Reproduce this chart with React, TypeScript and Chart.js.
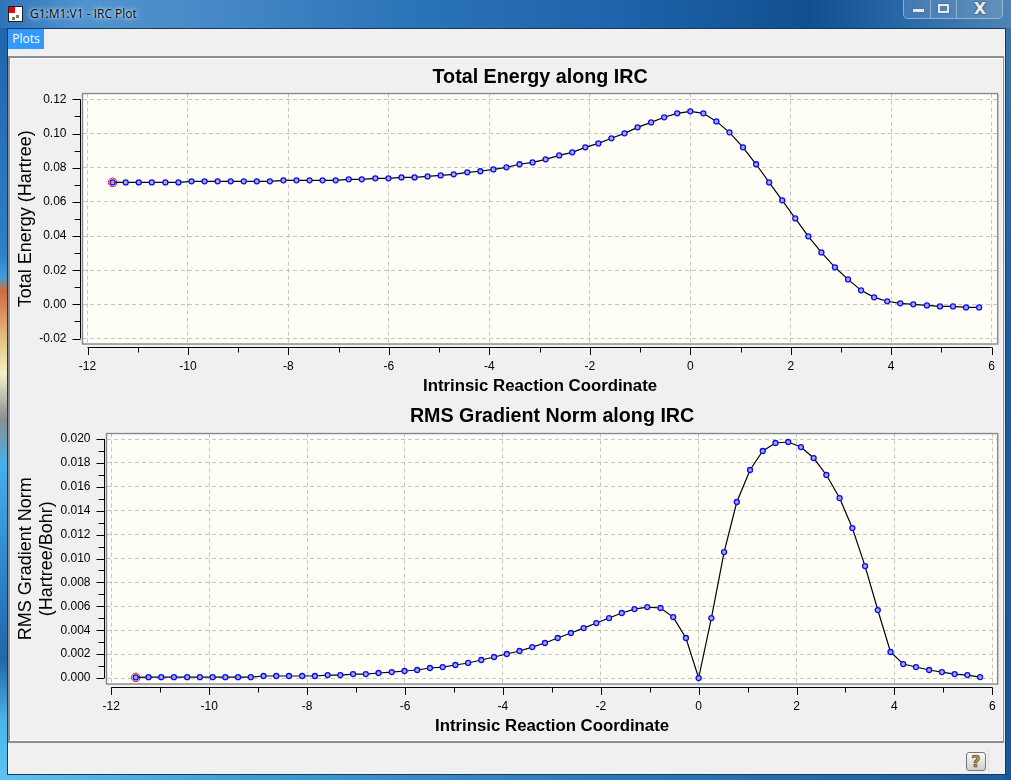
import React, { useEffect, useRef } from "react";
import { Chart, registerables } from "chart.js";

Chart.register(...registerables);

const reactionCoordinate = [
  -11.5, -11.24, -10.98, -10.72, -10.45, -10.19, -9.93, -9.67, -9.41, -9.15, -8.89, -8.63, -8.37, -8.1, -7.84, -7.58,
  -7.32, -7.06, -6.8, -6.54, -6.27, -6.01, -5.75, -5.49, -5.23, -4.97, -4.71, -4.44, -4.18, -3.92, -3.66, -3.4, -3.14,
  -2.88, -2.61, -2.35, -2.09, -1.83, -1.57, -1.31, -1.05, -0.78, -0.52, -0.26, 0, 0.26, 0.52, 0.78, 1.05, 1.31, 1.57,
  1.83, 2.09, 2.35, 2.61, 2.88, 3.14, 3.4, 3.66, 3.92, 4.18, 4.44, 4.71, 4.97, 5.23, 5.49, 5.75,
];

const totalEnergy = [
  0.0714, 0.0714, 0.0714, 0.0714, 0.0714, 0.0714, 0.072, 0.072, 0.072, 0.072, 0.072, 0.072, 0.072, 0.0726, 0.0726,
  0.0726, 0.0726, 0.0726, 0.0732, 0.0732, 0.0738, 0.0738, 0.0743, 0.0743, 0.0749, 0.0755, 0.0761, 0.0773, 0.0779, 0.079,
  0.0802, 0.082, 0.0831, 0.0849, 0.0872, 0.089, 0.0919, 0.0942, 0.0972, 0.1001, 0.1036, 0.1065, 0.1095, 0.1118, 0.113,
  0.1118, 0.1071, 0.1007, 0.0919, 0.082, 0.0714, 0.0609, 0.0503, 0.0398, 0.0304, 0.0217, 0.0146, 0.0082, 0.0041, 0.0018,
  0.0006, 0, -0.0006, -0.0012, -0.0012, -0.0018, -0.0018,
];

const gradientNorm = [
  0.00005, 0.00007, 0.00007, 0.00007, 0.00007, 0.00007, 0.00007, 0.00007, 0.00007, 0.00007, 0.00017, 0.00017, 0.00017,
  0.00017, 0.00017, 0.00025, 0.00025, 0.00033, 0.00033, 0.00042, 0.0005, 0.00059, 0.00067, 0.00084, 0.00092, 0.00109,
  0.00126, 0.00151, 0.00176, 0.00201, 0.00226, 0.00259, 0.00293, 0.00335, 0.00377, 0.00418, 0.0046, 0.00502, 0.00544,
  0.00577, 0.00594, 0.00586, 0.0051, 0.00335, 0, 0.00502, 0.01054, 0.01473, 0.01741, 0.019, 0.01967, 0.01975, 0.01933,
  0.01841, 0.01699, 0.01506, 0.01255, 0.00937, 0.00569, 0.00218, 0.00117, 0.00092, 0.00067, 0.0005, 0.00033, 0.00025,
  0.00008,
];

const xTicks = [-12, -10, -8, -6, -4, -2, 0, 2, 4, 6];
const energyTicks = [-0.02, 0, 0.02, 0.04, 0.06, 0.08, 0.1, 0.12];
const gradientTicks = [0, 0.002, 0.004, 0.006, 0.008, 0.01, 0.012, 0.014, 0.016, 0.018, 0.02];

const FONT = "'Liberation Sans', Arial, sans-serif";

const detachedAxes = {
  id: "detachedAxes",
  beforeDraw(chart: any) {
    const { ctx, chartArea: a } = chart;
    ctx.save();
    ctx.fillStyle = "#fffff8";
    ctx.fillRect(a.left, a.top, a.right - a.left, a.bottom - a.top);
    ctx.restore();
  },
  afterDraw(chart: any) {
    const { ctx, chartArea: a, scales } = chart;
    const cfg = chart.options.plugins.detachedAxes;
    ctx.save();
    ctx.strokeStyle = "#85888f";
    ctx.lineWidth = 1.4;
    ctx.strokeRect(a.left, a.top, a.right - a.left, a.bottom - a.top);

    ctx.strokeStyle = "#000";
    ctx.lineWidth = 1;
    const line = (x1: number, y1: number, x2: number, y2: number) => {
      ctx.beginPath();
      ctx.moveTo(x1, y1);
      ctx.lineTo(x2, y2);
      ctx.stroke();
    };

    const axisY = Math.round(a.bottom + 3) + 0.5;
    const xs = scales.x;
    line(xs.getPixelForValue(xTicks[0]), axisY, xs.getPixelForValue(xTicks[xTicks.length - 1]), axisY);
    for (let i = 0; i < xTicks.length; i++) {
      const major = Math.round(xs.getPixelForValue(xTicks[i])) + 0.5;
      line(major, axisY, major, axisY + 7.5);
      if (i < xTicks.length - 1) {
        const minor = Math.round(xs.getPixelForValue((xTicks[i] + xTicks[i + 1]) / 2)) + 0.5;
        line(minor, axisY, minor, axisY + 5);
      }
    }

    const axisX = Math.round(a.left - 3) + 0.5;
    const ys = scales.y;
    const yt: number[] = cfg.yTicks;
    line(axisX, ys.getPixelForValue(yt[0]), axisX, ys.getPixelForValue(yt[yt.length - 1]));
    for (let i = 0; i < yt.length; i++) {
      const major = Math.round(ys.getPixelForValue(yt[i])) + 0.5;
      line(axisX, major, axisX - 8, major);
      if (i < yt.length - 1) {
        const minor = Math.round(ys.getPixelForValue((yt[i] + yt[i + 1]) / 2)) + 0.5;
        line(axisX, minor, axisX - 6, minor);
      }
    }
    ctx.restore();
  },
};

function Plot(p: any) {
  const ref = useRef<HTMLCanvasElement | null>(null);
  useEffect(() => {
    if (!ref.current) return;
    const grid = { color: "#c6c6c0", drawTicks: false, lineWidth: 1 };
    const border = { display: false, dash: [4, 3] };
    const noPad = (s: any) => {
      s.paddingLeft = 0;
      s.paddingRight = 0;
      s.paddingTop = 0;
      s.paddingBottom = 0;
    };
    const chart = new Chart(ref.current, {
      type: "scatter",
      data: {
        datasets: [
          {
            data: reactionCoordinate.map((x, i) => ({ x, y: p.values[i] })),
            showLine: true,
            borderColor: "#000",
            borderWidth: 1.2,
            pointRadius: 2.5,
            pointBorderWidth: 1.3,
            pointBorderColor: "#0a0aff",
            pointBackgroundColor: "#a8aec4",
          },
          {
            data: [{ x: reactionCoordinate[0], y: p.values[0] }],
            showLine: false,
            pointRadius: 4.3,
            pointBorderWidth: 1,
            pointBorderColor: "#ee1111",
            pointBackgroundColor: "transparent",
          },
        ],
      },
      plugins: [detachedAxes],
      options: {
        animation: false,
        responsive: false,
        devicePixelRatio: 1,
        layout: { padding: { left: 0, right: p.width - (p.axisLeft + p.boxWidth), top: 0, bottom: 0 } },
        plugins: {
          legend: { display: false },
          tooltip: { enabled: false },
          title: {
            display: true,
            text: p.title,
            color: "#000",
            fullSize: false,
            font: { family: FONT, size: 19.7, weight: "bold", lineHeight: 1.2 },
            padding: p.titlePad,
          },
          detachedAxes: { yTicks: p.yTicks },
        } as any,
        scales: {
          x: {
            type: "linear",
            min: p.xRange[0],
            max: p.xRange[1],
            grid,
            border,
            afterBuildTicks: (s: any) => {
              s.ticks = xTicks.map((value) => ({ value }));
            },
            afterFit: (s: any) => {
              s.height = p.axisBottom;
              noPad(s);
            },
            ticks: {
              color: "#000",
              font: { family: FONT, size: 12 },
              padding: 15,
              maxRotation: 0,
              autoSkip: false,
              callback: (v: any) => String(v),
            },
            title: {
              display: true,
              text: "Intrinsic Reaction Coordinate",
              color: "#000",
              font: { family: FONT, size: 16.8, weight: "bold", lineHeight: 1.2 },
              padding: { top: 0, bottom: 4 },
            },
          },
          y: {
            type: "linear",
            min: p.yRange[0],
            max: p.yRange[1],
            grid,
            border,
            afterBuildTicks: (s: any) => {
              s.ticks = p.yTicks.map((value: number) => ({ value }));
            },
            afterFit: (s: any) => {
              s.width = p.axisLeft;
              noPad(s);
            },
            ticks: {
              color: "#000",
              font: { family: FONT, size: 12 },
              padding: 16,
              autoSkip: false,
              callback: (v: any) => Number(v).toFixed(p.decimals),
            },
            title: {
              display: true,
              text: p.yTitle,
              color: "#000",
              font: { family: FONT, size: 18, lineHeight: 1.2, weight: "normal" },
              padding: { top: p.yTitlePad, bottom: 0 },
            },
          },
        },
      } as any,
    } as any);
    return () => chart.destroy();
  }, []);
  return (
    <canvas
      ref={ref}
      width={p.width}
      height={p.height}
      style={{ position: "absolute", left: p.left, top: p.top, width: p.width, height: p.height, display: "block" }}
    />
  );
}

const abs = (left: number, top: number, width: number, height: number, extra: React.CSSProperties = {}): React.CSSProperties => ({
  position: "absolute",
  left,
  top,
  width,
  height,
  ...extra,
});

export default function App() {
  const topPlot: any = {
    left: 10,
    top: 58,
    width: 993,
    height: 342,
    boxWidth: 915.5,
    title: "Total Energy along IRC",
    yTitle: "Total Energy (Hartree)",
    values: totalEnergy,
    yTicks: energyTicks,
    decimals: 2,
    xRange: [-12.1, 6.12],
    yRange: [-0.0232, 0.1234],
    axisLeft: 72.5,
    axisBottom: 56,
    titlePad: { top: 7.7, bottom: 4.2 },
    yTitlePad: 5,
  };
  const bottomPlot: any = {
    left: 10,
    top: 400,
    width: 993,
    height: 340,
    boxWidth: 891.5,
    title: "RMS Gradient Norm along IRC",
    yTitle: ["RMS Gradient Norm", "(Hartree/Bohr)"],
    values: gradientNorm,
    yTicks: gradientTicks,
    decimals: 3,
    xRange: [-12.098, 6.11],
    yRange: [-0.0005, 0.02046],
    axisLeft: 96.5,
    axisBottom: 56,
    titlePad: { top: 4.7, bottom: 5.2 },
    yTitlePad: 5,
  };
  return (
    <div style={abs(0, 0, 1011, 780, { overflow: "hidden", background: "#1f67ae" })}>
      <style>{`html,body{margin:0;padding:0;overflow:hidden}`}</style>
      <div
        style={abs(0, 0, 1011, 28, {
          background: "linear-gradient(90deg,#2f74b8 0%,#4f93cf 8%,#4a8cc8 18%,#2c74b9 40%,#1d63ab 62%,#11508f 80%,#2a6aa8 90%,#4f83b5 100%)",
        })}
      />
      <div style={abs(0, 28, 7, 752, { background: "linear-gradient(180deg,#1f66ab 0%,#2f7fc4 30%,#3ba0dc 33%,#cf6b42 35%,#e8c98a 42%,#f5f1c6 46%,#8a8f94 52%,#47b0e8 58%,#2f86c9 72%,#2266a8 84%,#49b4ea 92%,#5ec4f2 100%)" })} />
      <div style={abs(0, 775, 1011, 5, { background: "linear-gradient(90deg,#5cc2f0 0%,#3d9bd8 25%,#2a78bd 60%,#1c5c9f 100%)" })} />
      <div style={abs(1006, 28, 5, 752, { background: "linear-gradient(180deg,#3b75ae 0%,#1a5ea5 40%,#15589e 100%)" })} />
      <div style={abs(8, 6, 15, 16, { background: "#fff", border: "1px solid #222", boxSizing: "border-box" })}>
        <div style={abs(0, 0, 6, 6, { background: "#e8000c" })} />
        <div style={abs(7, 8, 3, 3, { background: "#777" })} />
        <div style={abs(3, 10, 3, 3, { background: "#777" })} />
      </div>
      <div
        style={abs(30, 5, 200, 18, {
          font: "12px 'Open Sans', sans-serif",
          lineHeight: "18px",
          color: "#0a0a0a",
          textShadow: "0 0 6px rgba(255,255,255,.9),0 0 3px rgba(255,255,255,.8)",
          whiteSpace: "nowrap",
        })}
      >
        G1:M1:V1 - IRC Plot
      </div>
      <div
        style={abs(903, -1, 100, 20, {
          border: "1px solid rgba(225,235,245,.45)",
          borderRadius: "0 0 5px 5px",
          background: "rgba(255,255,255,.12)",
          boxSizing: "border-box",
        })}
      >
        <div style={abs(26, 0, 1, 18, { background: "rgba(225,235,245,.45)" })} />
        <div style={abs(52, 0, 1, 18, { background: "rgba(225,235,245,.45)" })} />
        <div style={abs(9, 9, 11, 3, { background: "#e8e8e8", boxShadow: "0 0 1px #333" })} />
        <div style={abs(34, 4, 11, 9, { border: "2px solid #e8e8e8", boxSizing: "border-box", boxShadow: "0 0 1px #333" })} />
        <div
          style={abs(53, 0, 46, 18, {
            font: "bold 16px 'DejaVu Sans', sans-serif",
            lineHeight: "18px",
            textAlign: "center",
            color: "#eee",
            textShadow: "0 0 2px #223",
          })}
        >
          X
        </div>
      </div>
      <div style={abs(7, 28, 999, 747, { background: "#f0f0f0", border: "1px solid #17395c", boxSizing: "border-box" })} />
      <div
        style={abs(8, 29, 36, 20, {
          background: "#3399ff",
          color: "#fff",
          font: "12px 'Open Sans', sans-serif",
          lineHeight: "20px",
          textAlign: "center",
        })}
      >
        Plots
      </div>
      <div style={abs(8, 56, 996, 687, { background: "#8b8e96" })} />
      <div style={abs(10, 58, 993, 683, { background: "#fcfcfc" })} />
      <div style={abs(11, 59, 991, 681, { background: "#f0f0f0" })} />
      <Plot {...topPlot} />
      <Plot {...bottomPlot} />
      <div
        style={abs(966, 752, 20, 19, {
          border: "1px solid #777",
          borderRadius: 3,
          boxSizing: "border-box",
          background: "linear-gradient(180deg,#fafafa,#e2e2e2 55%,#cfcfcf)",
          font: "bold 16px 'DejaVu Sans', sans-serif",
          lineHeight: "17px",
          textAlign: "center",
          color: "#b8963c",
          WebkitTextStroke: "0.5px #3c3014",
        })}
      >
        ?
      </div>
      <div style={abs(988, 750, 1, 22, { background: "#dcdcdc" })} />
    </div>
  );
}
